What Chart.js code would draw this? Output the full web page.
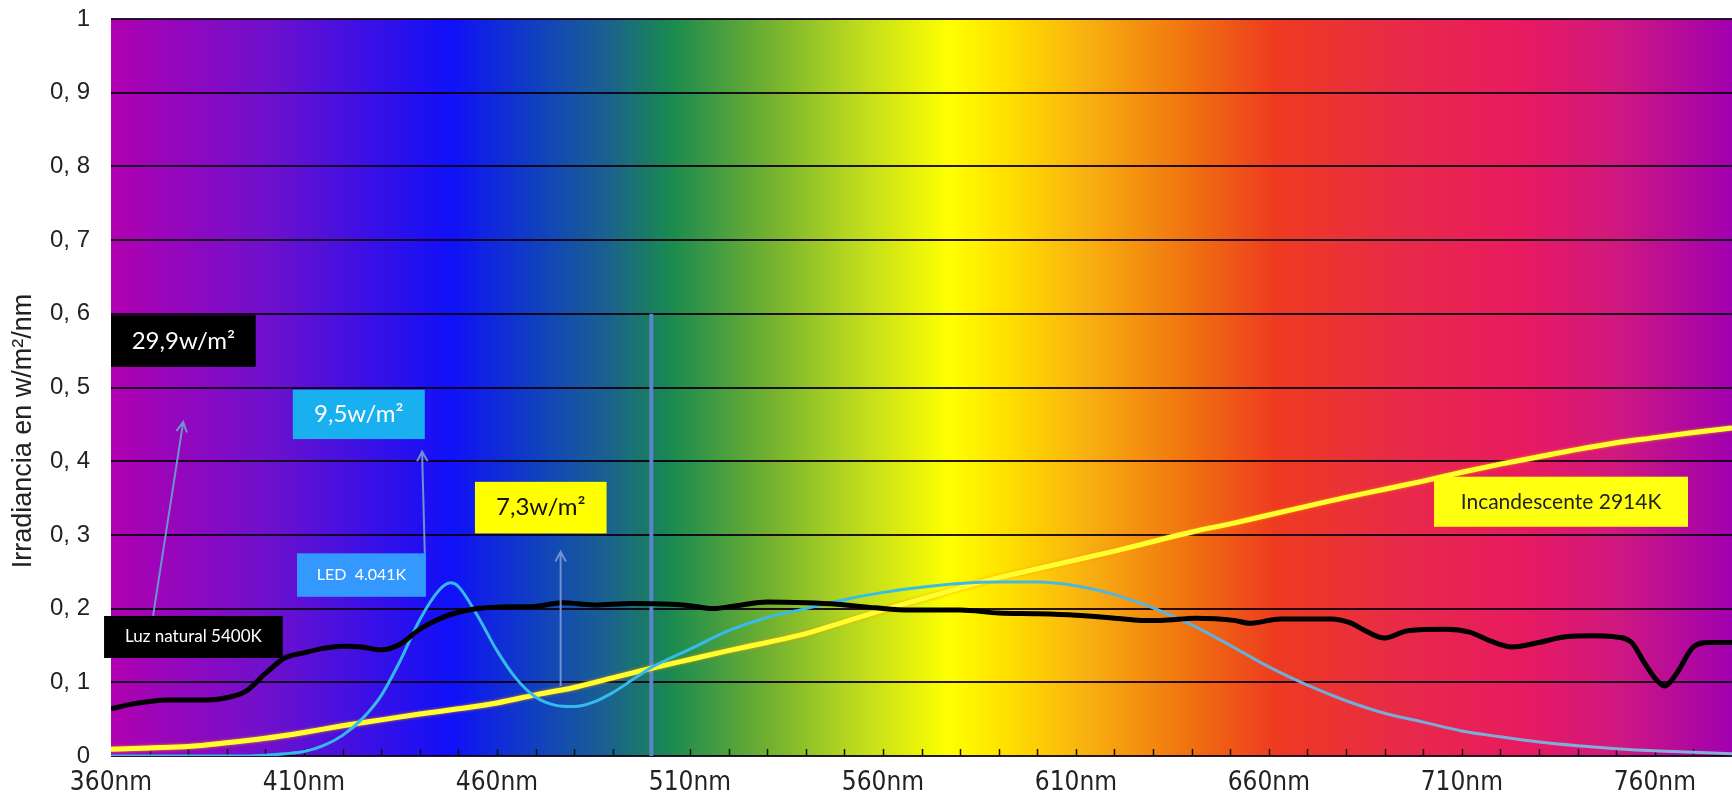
<!DOCTYPE html>
<html>
<head>
<meta charset="utf-8">
<script src="https://cdn.jsdelivr.net/npm/chart.js@4"></script>
<style>
  html, body { margin: 0; padding: 0; background: #fff; }
  #wrap { width: 1732px; height: 798px; position: relative; }
</style>
</head>
<body>
<div id="wrap"><canvas id="grafico"></canvas></div>
<script>
// ---- datos ----
var xTicks = [360, 410, 460, 510, 560, 610, 660, 710, 760];
var yTicks = [0, 0.1, 0.2, 0.3, 0.4, 0.5, 0.6, 0.7, 0.8, 0.9, 1];

// Luz natural 5400K
var naturalNm  = [360, 365, 370, 375, 380, 385, 390, 395, 400, 405, 410, 415, 420, 425, 430, 435, 440, 445, 450, 455, 460, 470, 477, 485, 495, 505, 510, 516, 522, 530, 540, 548, 558, 567, 580, 590, 600, 610, 620, 627, 632, 641, 651, 655, 663, 676, 681, 685, 690, 696, 706, 712, 717, 723, 730, 736, 744, 749, 754, 757, 760, 762.5, 765.5, 770, 774, 780];
var naturalVal = [0.064, 0.070, 0.074, 0.076, 0.076, 0.076, 0.079, 0.088, 0.112, 0.133, 0.140, 0.146, 0.149, 0.148, 0.144, 0.152, 0.172, 0.186, 0.195, 0.200, 0.202, 0.203, 0.208, 0.205, 0.207, 0.206, 0.204, 0.200, 0.204, 0.209, 0.208, 0.206, 0.201, 0.198, 0.198, 0.194, 0.193, 0.191, 0.187, 0.184, 0.184, 0.187, 0.184, 0.180, 0.186, 0.186, 0.181, 0.170, 0.160, 0.170, 0.172, 0.168, 0.157, 0.148, 0.154, 0.161, 0.163, 0.162, 0.154, 0.129, 0.106, 0.095, 0.111, 0.148, 0.154, 0.154];

// LED 4.041K
var ledNm  = [360, 380, 395, 400, 405, 410, 415, 420, 425, 430, 435, 440, 445, 448, 450, 455, 460, 465, 470, 475, 480, 485, 490, 495, 500, 505, 510, 520, 530, 540, 550, 560, 570, 580, 590, 600, 610, 620, 630, 640, 650, 660, 670, 680, 690, 700, 710, 720, 730, 740, 750, 760, 770, 780];
var ledVal = [0, 0, 0, 0.001, 0.003, 0.006, 0.014, 0.028, 0.050, 0.082, 0.130, 0.185, 0.225, 0.235, 0.230, 0.190, 0.143, 0.105, 0.080, 0.069, 0.067, 0.073, 0.086, 0.103, 0.120, 0.133, 0.145, 0.170, 0.188, 0.200, 0.212, 0.222, 0.229, 0.234, 0.236, 0.236, 0.231, 0.219, 0.201, 0.178, 0.150, 0.121, 0.096, 0.075, 0.058, 0.046, 0.034, 0.026, 0.019, 0.014, 0.010, 0.007, 0.005, 0.003];

// Incandescente 2914K
var incNm  = [360, 370, 380, 390, 400, 410, 420, 430, 440, 450, 460, 470, 480, 490, 500, 510, 520, 530, 540, 550, 560, 570, 580, 590, 600, 610, 620, 630, 640, 650, 660, 670, 680, 690, 700, 710, 720, 730, 740, 750, 760, 770, 780];
var incVal = [0.009, 0.011, 0.013, 0.018, 0.024, 0.032, 0.041, 0.049, 0.057, 0.064, 0.072, 0.083, 0.093, 0.106, 0.119, 0.131, 0.143, 0.154, 0.166, 0.182, 0.198, 0.213, 0.228, 0.242, 0.254, 0.266, 0.278, 0.291, 0.304, 0.315, 0.327, 0.339, 0.351, 0.362, 0.373, 0.385, 0.396, 0.406, 0.416, 0.425, 0.432, 0.439, 0.445];

// colores del espectro de fondo (nm, color)
var spectrumNm  = [360, 400, 448, 470, 488, 505, 530, 552, 577, 592, 613, 640, 662, 694, 726, 750, 780];
var spectrumCol = ['#b000b0', '#7010cc', '#1010f8', '#1040c0', '#1a6090', '#1a8a50', '#70b030', '#b8d820', '#ffff00', '#ffe000', '#f8b010', '#f07010', '#ee3a20', '#e82a48', '#e81a60', '#d01880', '#a000b0'];

// cajas de texto (en unidades del grafico)
var cajas = [
  { text: '29,9w/m\u00b2', x0: 360, x1: 397.5, y0: 0.528, y1: 0.598, bg: '#000000', fg: '#ffffff', font: '24px Lato' },
  { text: '9,5w/m\u00b2', x0: 407.1, x1: 441.3, y0: 0.430, y1: 0.497, bg: '#19b0f0', fg: '#ffffff', font: '24px Lato' },
  { text: '7,3w/m\u00b2', x0: 454.3, x1: 488.4, y0: 0.302, y1: 0.372, bg: '#ffff00', fg: '#111111', font: '24px Lato' },
  { text: 'LED  4.041K', x0: 408.2, x1: 441.6, y0: 0.216, y1: 0.275, bg: '#3399ff', fg: '#ffffff', font: '16px Lato' },
  { text: 'Luz natural 5400K', x0: 358.2, x1: 404.5, y0: 0.133, y1: 0.190, bg: '#000000', fg: '#ffffff', font: '17px Lato' },
  { text: 'Incandescente 2914K', x0: 702.8, x1: 768.6, y0: 0.311, y1: 0.379, bg: '#ffff10', fg: '#222222', font: '21px Lato' }
];
var flechas = [
  { from: [370.9, 0.190], to: [378.7, 0.453] },
  { from: [441.3, 0.275], to: [440.6, 0.413] },
  { from: [476.5, 0.095], to: [476.5, 0.277] }
];
var lineaVerticalNm = 500;
var lineaVerticalTop = 0.6;

function pares(xs, ys) {
  return xs.map(function (x, i) { return { x: x, y: ys[i] }; });
}

var fondoEspectro = {
  id: 'fondoEspectro',
  beforeDraw: function (chart) {
    var a = chart.chartArea, ctx = chart.ctx;
    var g = ctx.createLinearGradient(a.left, 0, a.right, 0);
    for (var i = 0; i < spectrumNm.length; i++) {
      g.addColorStop((spectrumNm[i] - 360) / 420, spectrumCol[i]);
    }
    ctx.save();
    ctx.fillStyle = g;
    ctx.fillRect(a.left, a.top, a.right - a.left, a.bottom - a.top);
    ctx.restore();
  },
  beforeDatasetsDraw: function (chart) {
    var ctx = chart.ctx, xs = chart.scales.x, ys = chart.scales.y;
    ctx.save();
    // marcas menores cada 10nm
    ctx.strokeStyle = '#111';
    ctx.lineWidth = 1.5;
    for (var nm = 370; nm < 780; nm += 10) {
      var px = Math.round(xs.getPixelForValue(nm)) + 0.5;
      ctx.beginPath();
      ctx.moveTo(px, ys.bottom);
      ctx.lineTo(px, ys.bottom - 7);
      ctx.stroke();
    }
    // linea vertical 500nm
    ctx.strokeStyle = '#5a86c8';
    ctx.lineWidth = 4;
    var vx = xs.getPixelForValue(lineaVerticalNm);
    ctx.beginPath();
    ctx.moveTo(vx, ys.getPixelForValue(0));
    ctx.lineTo(vx, ys.getPixelForValue(lineaVerticalTop));
    ctx.stroke();
    ctx.restore();
  },
  beforeDatasetDraw: function (chart, args) {
    if (args.index === 2) {
      chart.ctx.save();
      chart.ctx.shadowColor = 'rgba(255,150,0,0.9)';
      chart.ctx.shadowBlur = 3;
    }
  },
  afterDatasetDraw: function (chart, args) {
    if (args.index === 2) chart.ctx.restore();
  },
  afterDatasetsDraw: function (chart) {
    var ctx = chart.ctx, xs = chart.scales.x, ys = chart.scales.y;
    ctx.save();
    // flechas
    ctx.strokeStyle = '#7090d0';
    ctx.lineWidth = 2;
    flechas.forEach(function (f) {
      var x0 = xs.getPixelForValue(f.from[0]), y0 = ys.getPixelForValue(f.from[1]);
      var x1 = xs.getPixelForValue(f.to[0]), y1 = ys.getPixelForValue(f.to[1]);
      var ang = Math.atan2(y1 - y0, x1 - x0);
      ctx.beginPath();
      ctx.moveTo(x0, y0);
      ctx.lineTo(x1, y1);
      ctx.moveTo(x1 - 11 * Math.cos(ang - 0.5), y1 - 11 * Math.sin(ang - 0.5));
      ctx.lineTo(x1, y1);
      ctx.lineTo(x1 - 11 * Math.cos(ang + 0.5), y1 - 11 * Math.sin(ang + 0.5));
      ctx.stroke();
    });
    // cajas
    cajas.forEach(function (c) {
      var l = xs.getPixelForValue(c.x0), r = xs.getPixelForValue(c.x1);
      var t = ys.getPixelForValue(c.y1), b = ys.getPixelForValue(c.y0);
      ctx.fillStyle = c.bg;
      ctx.fillRect(l, t, r - l, b - t);
      ctx.fillStyle = c.fg;
      ctx.font = c.font;
      ctx.textAlign = 'center';
      ctx.textBaseline = 'middle';
      ctx.fillText(c.text, (l + r) / 2, (t + b) / 2);
    });
    ctx.restore();
  },
  afterDraw: function (chart) {
    var ctx = chart.ctx;
    ctx.save();
    ctx.translate(24, 431);
    ctx.rotate(-Math.PI / 2);
    ctx.fillStyle = '#222';
    ctx.font = '27px "Liberation Sans", Arial, sans-serif';
    ctx.textAlign = 'center';
    ctx.textBaseline = 'middle';
    ctx.fillText('Irradiancia en w/m\u00b2/nm', 0, 0);
    ctx.restore();
  }
};

var ledColor = function (context) {
  var a = context.chart.chartArea;
  if (!a) return '#30b8f0';
  var g = context.chart.ctx.createLinearGradient(a.left, 0, a.right, 0);
  g.addColorStop(0, '#30b8f0');
  g.addColorStop(0.5, '#38bce8');
  g.addColorStop(0.72, '#70acd8');
  g.addColorStop(1, '#8aaed8');
  return g;
};

var ctx = document.getElementById('grafico').getContext('2d');
var myChart = new Chart(ctx, {
  type: 'line',
  data: {
    datasets: [{
      label: 'Luz natural 5400K',
      data: pares(naturalNm, naturalVal),
      borderColor: '#000000',
      borderWidth: 5,
      pointRadius: 0,
      cubicInterpolationMode: 'monotone'
    }, {
      label: 'LED 4.041K',
      data: pares(ledNm, ledVal),
      borderColor: ledColor,
      borderWidth: 3,
      pointRadius: 0,
      cubicInterpolationMode: 'monotone'
    }, {
      label: 'Incandescente 2914K',
      data: pares(incNm, incVal),
      borderColor: '#ffff30',
      borderWidth: 5,
      pointRadius: 0,
      cubicInterpolationMode: 'monotone'
    }]
  },
  options: {
    responsive: true,
    maintainAspectRatio: false,
    animation: false,
    layout: { padding: { top: 19, right: 0, left: 0, bottom: 0 } },
    plugins: {
      legend: { display: false },
      tooltip: { enabled: false }
    },
    scales: {
      x: {
        type: 'linear',
        min: 360,
        max: 780,
        afterBuildTicks: function (scale) {
          scale.ticks = xTicks.map(function (v) { return { value: v }; });
        },
        afterFit: function (scale) {
          scale.height = 42;
          scale.paddingLeft = 0;
          scale.paddingRight = 0;
        },
        grid: { display: false, drawTicks: false },
        border: { display: false },
        ticks: {
          padding: 12,
          maxRotation: 0,
          autoSkip: false,
          color: '#222',
          font: { family: '"Liberation Sans Narrow", "DejaVu Sans Condensed", sans-serif', size: 26 },
          callback: function (v) { return v + 'nm'; }
        }
      },
      y: {
        min: 0,
        max: 1,
        afterBuildTicks: function (scale) {
          scale.ticks = yTicks.map(function (v) { return { value: v }; });
        },
        afterFit: function (scale) {
          scale.width = 111;
          scale.paddingTop = 0;
          scale.paddingBottom = 0;
        },
        grid: { color: 'rgba(15,0,20,0.9)', lineWidth: 2, drawTicks: false },
        border: { display: false },
        ticks: {
          padding: 21,
          color: '#222',
          font: { family: '"Liberation Sans", Arial, sans-serif', size: 24 },
          callback: function (v) {
            if (v === 0) return '0';
            if (v === 1) return '1';
            return '0, ' + Math.round(v * 10);
          }
        }
      }
    }
  },
  plugins: [fondoEspectro]
});
</script>
</body>
</html>
